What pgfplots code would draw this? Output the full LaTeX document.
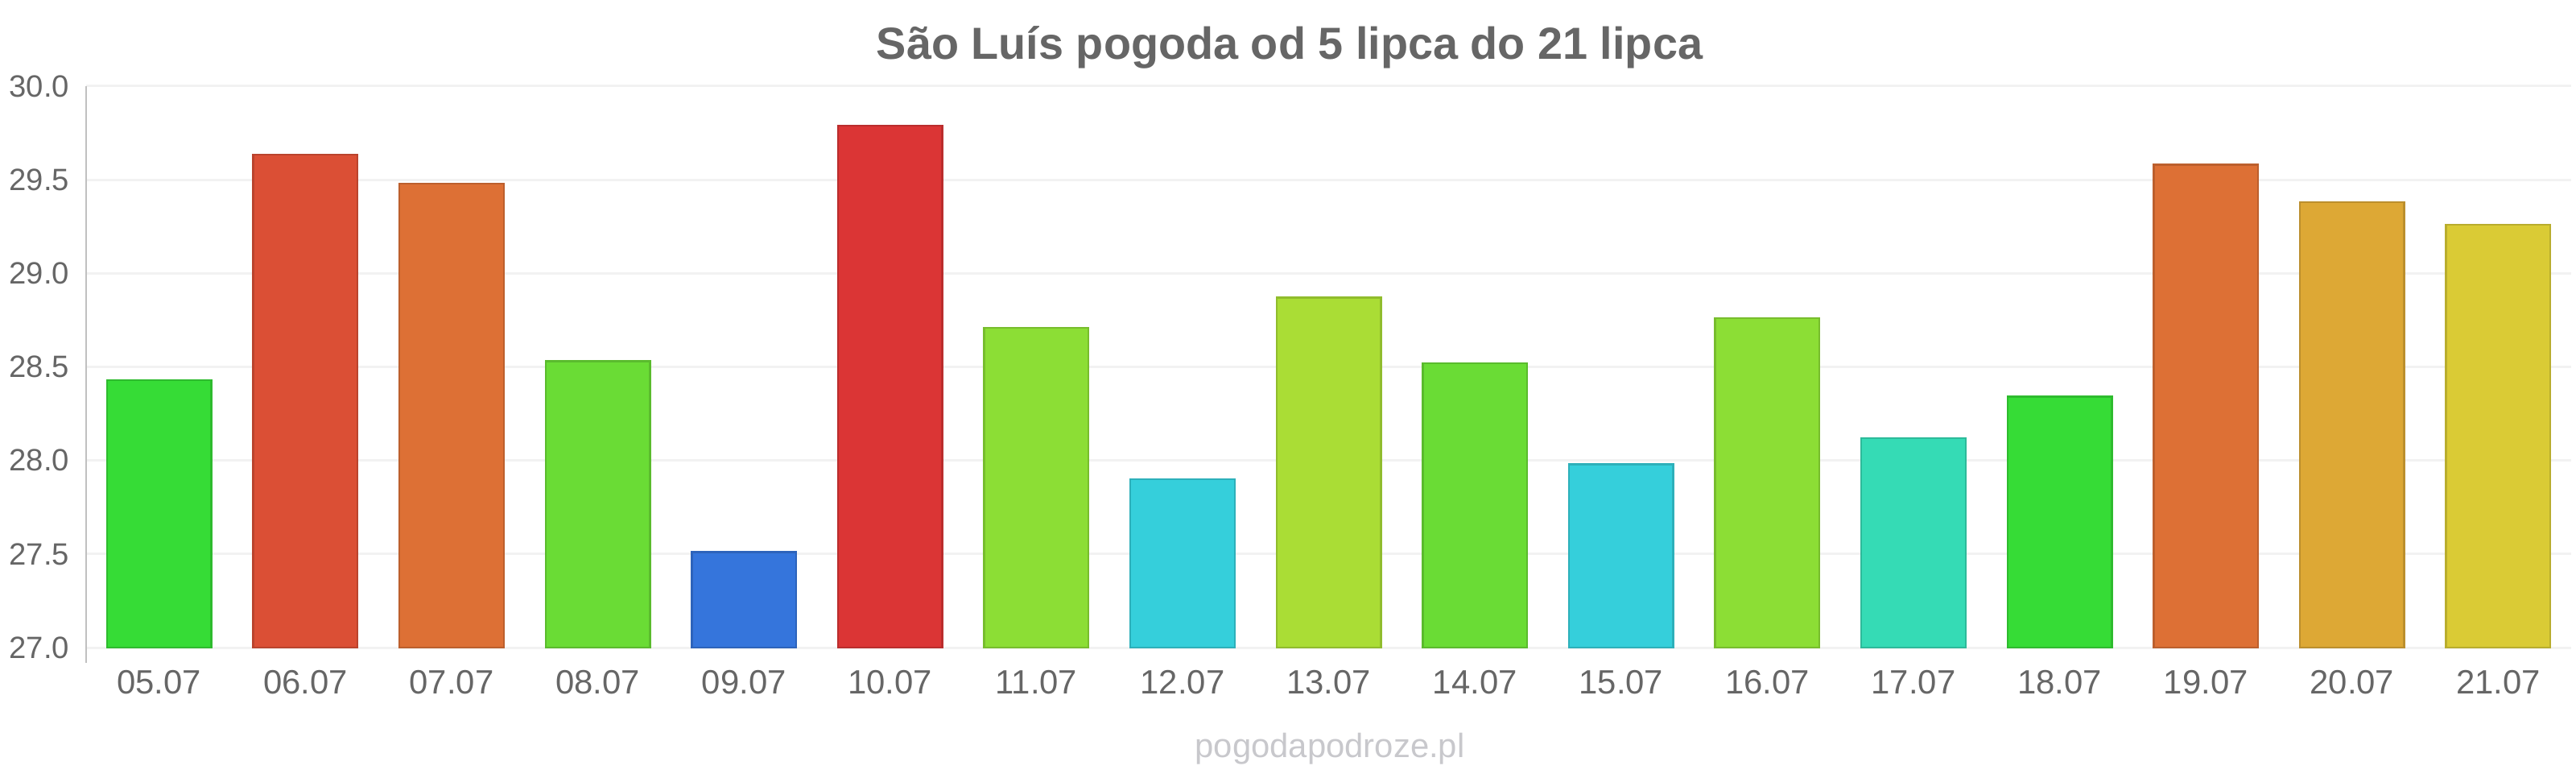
\documentclass[border=0pt]{standalone}
\usepackage{pgfplots}
\pgfplotsset{compat=1.18}
\usepackage{fontspec}
\setmainfont{Liberation Sans}
\definecolor{txt}{HTML}{666666}
\definecolor{grid}{HTML}{F2F2F2}
\definecolor{axl}{HTML}{C0C0C0}
\definecolor{wm}{HTML}{C8C8CC}
\definecolor{cA}{HTML}{36DC36}
\definecolor{cB}{HTML}{DB4F35}
\definecolor{cC}{HTML}{DD7035}
\definecolor{cD}{HTML}{6ADC35}
\definecolor{cE}{HTML}{3575DC}
\definecolor{cF}{HTML}{DB3535}
\definecolor{cG}{HTML}{8CDE35}
\definecolor{cH}{HTML}{35CFDB}
\definecolor{cI}{HTML}{AADD35}
\definecolor{cJ}{HTML}{35DBB5}
\definecolor{cK}{HTML}{DDA835}
\definecolor{cL}{HTML}{DACB35}
\begin{document}
\begin{tikzpicture}[x=1bp,y=1bp]
\path[use as bounding box] (0,0) rectangle (800,240);
\node[font=\fontsize{14}{16}\selectfont\bfseries, text=txt, anchor=base] at (400.5,221.7) {São Luís pogoda od 5 lipca do 21 lipca};
\node[font=\fontsize{10.5}{12}\selectfont, text=wm, anchor=base] at (413,5) {pogodapodroze.pl};
\begin{axis}[
  at={(26.75bp,39bp)}, anchor=south west,
  scale only axis, width=771.8bp, height=174.25bp,
  xmin=-0.5, xmax=16.5, ymin=27, ymax=30,
  clip=false,
  axis line style={draw=none},
  major tick length=0pt,
  ytick={27,27.5,28,28.5,29,29.5,30},
  ymajorgrids, grid style={color=grid, line width=0.75bp},
  xtick={0,...,16},
  xticklabels={05.07,06.07,07.07,08.07,09.07,10.07,11.07,12.07,13.07,14.07,15.07,16.07,17.07,18.07,19.07,20.07,21.07},
  x tick label style={font=\fontsize{10.5}{12}\selectfont, text=txt},
  y tick label style={font=\fontsize{9.6}{12}\selectfont, text=txt},
  xticklabel shift=3.5bp,
  yticklabel shift=1.7bp,
  /pgf/number format/.cd, fixed, fixed zerofill, precision=1, assume math mode=true,
  /pgfplots/.cd,
  ybar, bar width=32.4bp, bar shift=0pt,
  every axis plot/.append style={line width=0.6bp},
]
\addplot[fill=cA, draw=cA!85!black] coordinates {(0,28.43)};
\addplot[fill=cB, draw=cB!85!black] coordinates {(1,29.635)};
\addplot[fill=cC, draw=cC!85!black] coordinates {(2,29.48)};
\addplot[fill=cD, draw=cD!85!black] coordinates {(3,28.53)};
\addplot[fill=cE, draw=cE!85!black] coordinates {(4,27.51)};
\addplot[fill=cF, draw=cF!85!black] coordinates {(5,29.79)};
\addplot[fill=cG, draw=cG!85!black] coordinates {(6,28.71)};
\addplot[fill=cH, draw=cH!85!black] coordinates {(7,27.90)};
\addplot[fill=cI, draw=cI!85!black] coordinates {(8,28.87)};
\addplot[fill=cD, draw=cD!85!black] coordinates {(9,28.52)};
\addplot[fill=cH, draw=cH!85!black] coordinates {(10,27.98)};
\addplot[fill=cG, draw=cG!85!black] coordinates {(11,28.76)};
\addplot[fill=cJ, draw=cJ!85!black] coordinates {(12,28.12)};
\addplot[fill=cA, draw=cA!85!black] coordinates {(13,28.34)};
\addplot[fill=cC, draw=cC!85!black] coordinates {(14,29.58)};
\addplot[fill=cK, draw=cK!85!black] coordinates {(15,29.38)};
\addplot[fill=cL, draw=cL!85!black] coordinates {(16,29.26)};
\end{axis}
\draw[axl, line width=0.6bp] (26.75,213.25) -- (26.75,34.25);
\end{tikzpicture}
\end{document}
